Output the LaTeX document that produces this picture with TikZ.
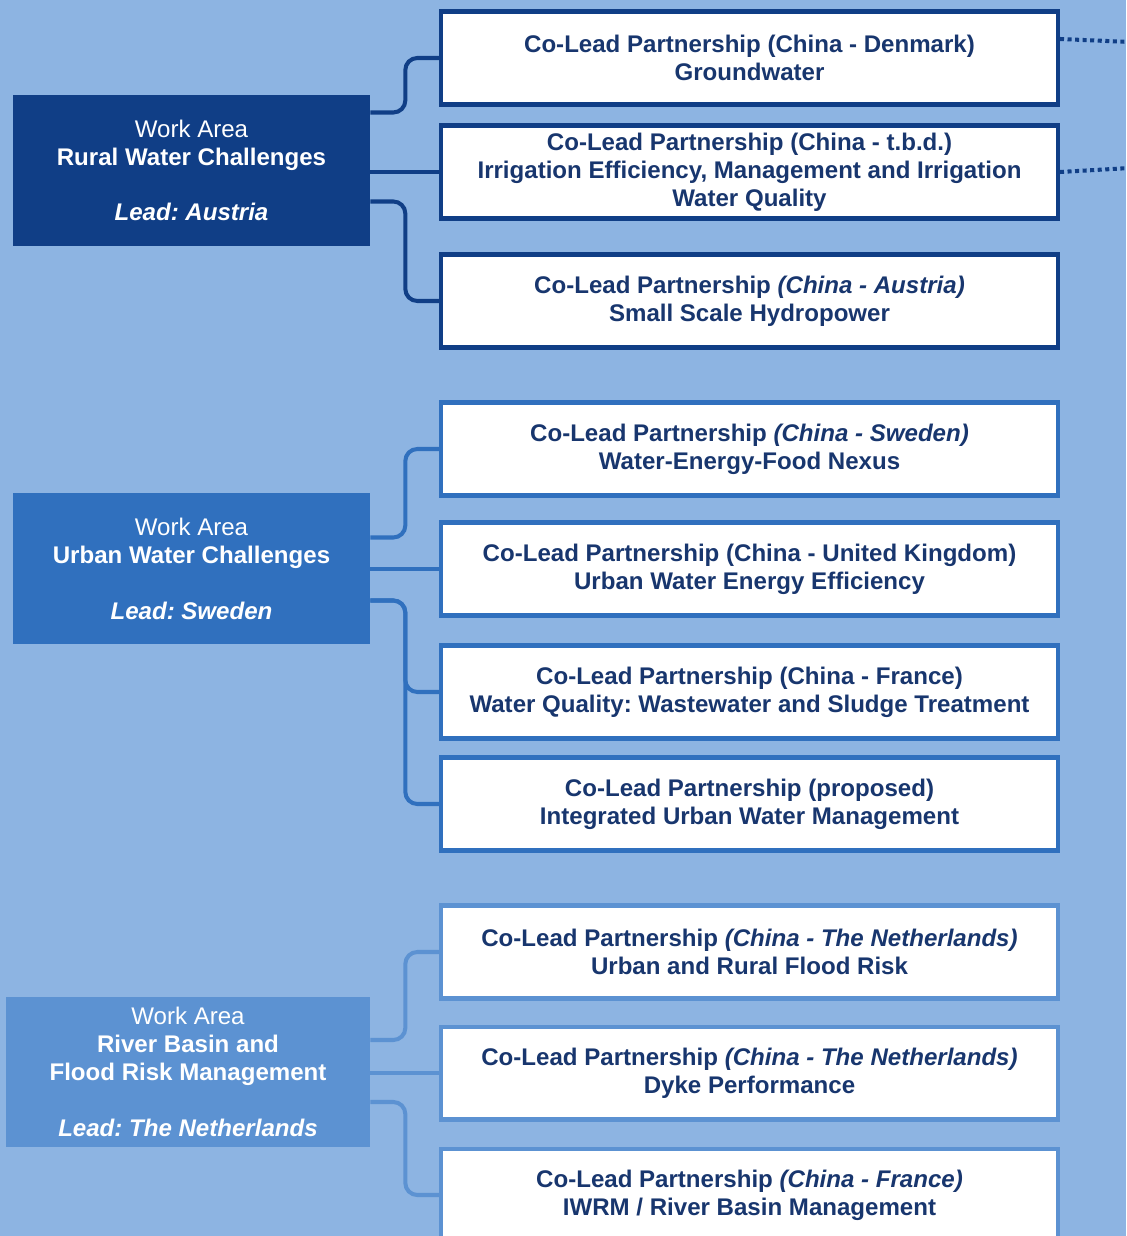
\documentclass[tikz,border=0pt]{standalone}
\usepackage{fontspec}
\setmainfont{Liberation Sans}
\usetikzlibrary{positioning,calc}
\frenchspacing

\definecolor{bgblue}{RGB}{141,180,226}
\definecolor{ruralblue}{RGB}{16,62,134}
\definecolor{urbanblue}{RGB}{48,112,190}
\definecolor{riverblue}{RGB}{92,146,210}
\definecolor{textnavy}{RGB}{24,54,110}

\begin{document}
\begin{tikzpicture}[x=0.02cm, y=-0.02cm,
  lead/.style={text=white, align=center, minimum width=7.14cm, minimum height=3.02cm,
    inner sep=0pt, font=\fontsize{13.7}{15.9}\selectfont},
  partner/.style={draw=#1, fill=white, line width=2.3pt, text=textnavy, align=center,
    minimum width=12.34cm, minimum height=1.86cm, inner sep=0pt,
    font=\fontsize{13.7}{15.9}\selectfont\bfseries},
  link/.style={draw=#1, line width=2.3pt, rounded corners=0.24cm},
  dotlink/.style={draw=ruralblue, line width=2.3pt, dotted}
]
\useasboundingbox (0,0) rectangle (1126,1236);
\clip (0,0) rectangle (1126,1236);
\fill[bgblue] (0,0) rectangle (1126,1236);

% Work area: rural water
\node[lead, fill=ruralblue] (rural) at (191.5,170.5) {Work Area\\ \textbf{Rural Water Challenges}\\[15.9pt] \textbf{\textit{Lead: Austria}}};
\node[partner=ruralblue] (groundwater) at (749.5,58) {Co-Lead Partnership (China - Denmark)\\ Groundwater};
\node[partner=ruralblue] (irrigation) at (749.5,172) {Co-Lead Partnership (China - t.b.d.)\\ Irrigation Efficiency, Management and Irrigation\\ Water Quality};
\node[partner=ruralblue] (hydropower) at (749.5,301) {Co-Lead Partnership \textit{(China - Austria)}\\ Small Scale Hydropower};

\draw[link=ruralblue] ($(rural.east)+(0,-58)$) -- ++(35,0) |- (groundwater.west);
\draw[link=ruralblue] (irrigation.west -| rural.east) -- (irrigation.west);
\draw[link=ruralblue] ($(rural.east)+(0,31)$) -- ++(35,0) |- (hydropower.west);

% dotted links leaving the picture
\coordinate (outA) at (1130,42);
\coordinate (outB) at (1130,168);
\draw[dotlink] ($(groundwater.east)+(0,-19)$) -- (outA);
\draw[dotlink] (irrigation.east) -- (outB);

% Work area: urban water
\node[lead, fill=urbanblue] (urban) at (191.5,568.5) {Work Area\\ \textbf{Urban Water Challenges}\\[15.9pt] \textbf{\textit{Lead: Sweden}}};
\node[partner=urbanblue] (nexus) at (749.5,449) {Co-Lead Partnership \textit{(China - Sweden)}\\ Water-Energy-Food Nexus};
\node[partner=urbanblue] (efficiency) at (749.5,569) {Co-Lead Partnership (China - United Kingdom)\\ Urban Water Energy Efficiency};
\node[partner=urbanblue] (sludge) at (749.5,692) {Co-Lead Partnership (China - France)\\ Water Quality: Wastewater and Sludge Treatment};
\node[partner=urbanblue] (iuwm) at (749.5,804) {Co-Lead Partnership (proposed)\\ Integrated Urban Water Management};

\draw[link=urbanblue] ($(urban.east)+(0,-31)$) -- ++(35,0) |- (nexus.west);
\draw[link=urbanblue] (efficiency.west -| urban.east) -- (efficiency.west);
\draw[link=urbanblue] ($(urban.east)+(0,32)$) -- ++(35,0) |- (sludge.west);
\draw[link=urbanblue] ($(urban.east)+(0,32)$) -- ++(35,0) |- (iuwm.west);

% Work area: river basin
\node[lead, fill=riverblue, minimum width=7.28cm] (river) at (188,1072) {Work Area\\ \textbf{River Basin and}\\ \textbf{Flood Risk Management}\\[15.9pt] \textbf{\textit{Lead: The Netherlands}}};
\node[partner=riverblue] (floodrisk) at (749.5,952) {Co-Lead Partnership \textit{(China - The Netherlands)}\\ Urban and Rural Flood Risk};
\node[partner=riverblue] (dyke) at (749.5,1073) {Co-Lead Partnership \textit{(China - The Netherlands)}\\ Dyke Performance};
\node[partner=riverblue] (iwrm) at (749.5,1195) {Co-Lead Partnership \textit{(China - France)}\\ IWRM / River Basin Management};

\draw[link=riverblue] ($(river.east)+(0,-32)$) -- ++(35,0) |- (floodrisk.west);
\draw[link=riverblue] (dyke.west -| river.east) -- (dyke.west);
\draw[link=riverblue] ($(river.east)+(0,30)$) -- ++(35,0) |- (iwrm.west);

\end{tikzpicture}
\end{document}
